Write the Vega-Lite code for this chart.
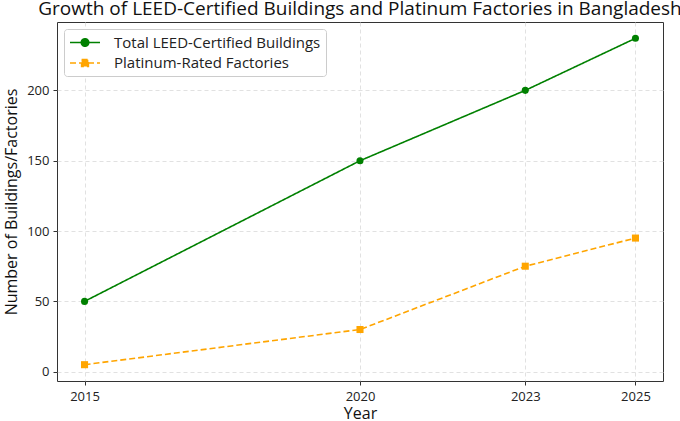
{
  "$schema": "https://vega.github.io/schema/vega-lite/v6.json",
  "width": 606,
  "height": 359,
  "autosize": "none",
  "padding": {"left": 57, "top": 22, "right": 17, "bottom": 40},
  "background": "white",
  "title": {
    "text": "Growth of LEED-Certified Buildings and Platinum Factories in Bangladesh",
    "fontSize": 19,
    "font": "Open Sans",
    "fontWeight": "normal",
    "color": "#111",
    "offset": 3
  },
  "data": {
    "values": [
      {"Year": 2015, "Series": "Total LEED-Certified Buildings", "Count": 50},
      {"Year": 2020, "Series": "Total LEED-Certified Buildings", "Count": 150},
      {"Year": 2023, "Series": "Total LEED-Certified Buildings", "Count": 200},
      {"Year": 2025, "Series": "Total LEED-Certified Buildings", "Count": 237},
      {"Year": 2015, "Series": "Platinum-Rated Factories", "Count": 5},
      {"Year": 2020, "Series": "Platinum-Rated Factories", "Count": 30},
      {"Year": 2023, "Series": "Platinum-Rated Factories", "Count": 75},
      {"Year": 2025, "Series": "Platinum-Rated Factories", "Count": 95}
    ]
  },
  "encoding": {
    "x": {
      "field": "Year",
      "type": "quantitative",
      "title": "Year",
      "scale": {"domain": [2014.5, 2025.5], "nice": false, "zero": false},
      "axis": {"values": [2015, 2020, 2023, 2025], "format": "d"}
    },
    "y": {
      "field": "Count",
      "type": "quantitative",
      "title": "Number of Buildings/Factories",
      "scale": {"domain": [-6.6, 248.6], "nice": false, "zero": false},
      "axis": {"values": [0, 50, 100, 150, 200]}
    },
    "color": {
      "field": "Series",
      "type": "nominal",
      "title": null,
      "sort": ["Total LEED-Certified Buildings", "Platinum-Rated Factories"],
      "scale": {
        "domain": ["Total LEED-Certified Buildings", "Platinum-Rated Factories"],
        "range": ["#008000", "#FFA500"]
      },
      "legend": {
        "encode": {
          "symbols": {
            "update": {
              "shape": {"signal": "datum.label === 'Total LEED-Certified Buildings' ? 'M-1,0H3M1.5,0A0.5,0.5,0,1,1,0.5,0A0.5,0.5,0,1,1,1.5,0Z' : 'M-1,0H3M0.55,-0.45H1.45V0.45H0.55Z'"},
              "fill": {"scale": "color", "field": "value"},
              "stroke": {"scale": "color", "field": "value"},
              "fillOpacity": {"value": 1},
              "opacity": {"value": 1}
            }
          }
        }
      }
    }
  },
  "layer": [
    {
      "mark": {"type": "line", "strokeWidth": 1.6},
      "encoding": {
        "strokeDash": {
          "field": "Series",
          "type": "nominal",
          "title": null,
          "sort": ["Total LEED-Certified Buildings", "Platinum-Rated Factories"],
          "scale": {
            "domain": ["Total LEED-Certified Buildings", "Platinum-Rated Factories"],
            "range": [[1, 0], [6, 3]]
          }
        }
      }
    },
    {
      "mark": {"type": "point", "filled": true, "size": 50, "opacity": 1},
      "encoding": {
        "shape": {
          "condition": {"test": "datum.Series === 'Platinum-Rated Factories'", "value": "square"},
          "value": "circle"
        }
      }
    }
  ],
  "config": {
    "font": "Open Sans",
    "view": {"stroke": "#333", "strokeWidth": 1},
    "axis": {
      "domain": false,
      "grid": true,
      "gridColor": "#d9d9d9",
      "gridDash": [4, 3],
      "gridWidth": 0.8,
      "tickColor": "#333",
      "tickSize": 4,
      "labelFontSize": 13,
      "labelColor": "#222",
      "titleFontSize": 16,
      "titleFontWeight": "normal",
      "titleColor": "#111"
    },
    "axisX": {"labelPadding": 5, "titlePadding": 2},
    "axisY": {"labelPadding": 4, "titlePadding": 7},
    "legend": {
      "orient": "top-left",
      "offset": 7,
      "fillColor": "white",
      "strokeColor": "#cccccc",
      "cornerRadius": 3,
      "padding": 5,
      "labelFontSize": 15,
      "labelColor": "#222",
      "labelLimit": 0,
      "labelOffset": 28,
      "symbolSize": 225,
      "symbolStrokeWidth": 1.6,
      "rowPadding": 3.5
    }
  }
}
